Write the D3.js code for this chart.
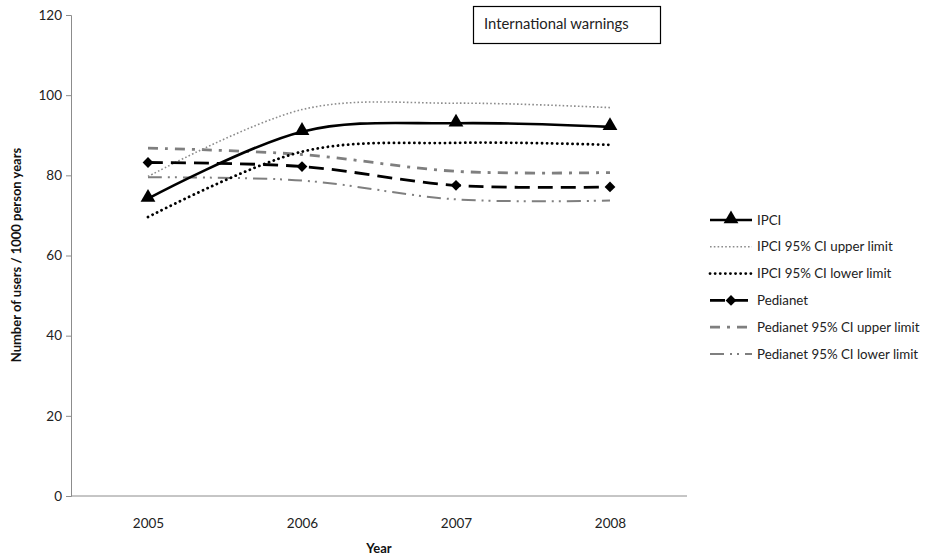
<!DOCTYPE html>
<html>
<head>
<meta charset="utf-8">
<script src="https://cdn.jsdelivr.net/npm/d3@7/dist/d3.min.js"></script>
<style>
  html, body { margin: 0; padding: 0; background: #fff; }
  svg { display: block; font-family: Lato, "Open Sans", sans-serif; }
</style>
</head>
<body>
<svg id="chart" width="927" height="559"></svg>
<script>
// Categories and series
const years = ["2005", "2006", "2007", "2008"];
const yTicks = [0, 20, 40, 60, 80, 100, 120];

const ipci        = [74.2, 90.9, 93.0, 92.1];
const ipciUpper   = [79.7, 96.4, 98.0, 96.9];
const ipciLower   = [69.6, 85.9, 88.1, 87.6];
const pedianet    = [83.2, 82.2, 77.5, 77.1];
const pedUpper    = [86.8, 85.2, 81.0, 80.7];
const pedLower    = [79.5, 78.7, 74.0, 73.7];

const seriesNames = [
  "IPCI",
  "IPCI 95% CI upper limit",
  "IPCI 95% CI lower limit",
  "Pedianet",
  "Pedianet 95% CI upper limit",
  "Pedianet 95% CI lower limit"
];

const series = [
  { name: seriesNames[0], values: ipci,      color: "#000", width: 2.6, dash: null,            cap: "butt",  marker: "triangle" },
  { name: seriesNames[1], values: ipciUpper, color: "#8c8c8c", width: 1.6, dash: "1.6,2.2",   cap: "butt",  marker: null },
  { name: seriesNames[2], values: ipciLower, color: "#000", width: 2.8, dash: "0.1,5",        cap: "round", marker: null },
  { name: seriesNames[3], values: pedianet,  color: "#000", width: 2.8, dash: "15,8",         cap: "butt",  marker: "diamond" },
  { name: seriesNames[4], values: pedUpper,  color: "#7f7f7f", width: 2.8, dash: "10,7,3,7",  cap: "butt",  marker: null },
  { name: seriesNames[5], values: pedLower,  color: "#7f7f7f", width: 2.0, dash: "14,6,2,5,2,6", cap: "butt", marker: null }
];

const svg = d3.select("#chart");

const plot = { left: 71, right: 687, top: 15, bottom: 496 };

const x = d3.scalePoint().domain(years).range([plot.left, plot.right]).padding(0.5);
const y = d3.scaleLinear().domain([0, 120]).range([plot.bottom, plot.top]);

// Y axis
const yAxis = svg.append("g")
  .attr("transform", `translate(${plot.left},0)`)
  .call(d3.axisLeft(y).tickValues(yTicks).tickSize(5).tickPadding(4));
yAxis.select(".domain").attr("stroke", "#8c8c8c");
yAxis.selectAll(".tick line").attr("stroke", "#8c8c8c");
yAxis.selectAll(".tick text").attr("font-size", 13.5).attr("fill", "#222")
  .attr("font-family", "Lato, sans-serif");

// X axis
const xAxis = svg.append("g")
  .attr("transform", `translate(0,${plot.bottom})`)
  .call(d3.axisBottom(x).tickSize(0).tickPadding(22));
xAxis.select(".domain").attr("stroke", "#8c8c8c")
  .attr("d", `M${plot.left},0H${plot.right}`);
xAxis.selectAll(".tick text").attr("font-size", 13.5).attr("fill", "#222")
  .attr("font-family", "Lato, sans-serif");

// Axis titles
svg.append("text")
  .attr("x", (plot.left + plot.right) / 2).attr("y", 553)
  .attr("text-anchor", "middle").attr("font-size", 13).attr("font-weight", "bold")
  .attr("fill", "#111").text("Year");

svg.append("text")
  .attr("transform", "translate(21,255) rotate(-90)")
  .attr("text-anchor", "middle").attr("font-size", 13).attr("font-weight", "bold")
  .attr("fill", "#111").text("Number of users / 1000 person years");

// Lines
const line = d3.line()
  .x((d, i) => x(years[i]))
  .y(d => y(d))
  .curve(d3.curveCatmullRom.alpha(0));

const triangle = d3.symbol().type(d3.symbolTriangle).size(95);
const diamond = d3.symbol().type(d3.symbolSquare).size(58);

function drawMarker(g, type, cx, cy) {
  if (type === "triangle") {
    g.append("path").attr("d", triangle()).attr("transform", `translate(${cx},${cy - 1})`)
      .attr("fill", "#000");
  } else if (type === "diamond") {
    g.append("path").attr("d", diamond()).attr("transform", `translate(${cx},${cy}) rotate(45)`)
      .attr("fill", "#000");
  }
}

const linesG = svg.append("g");
// Draw the lighter CI bands first, main series on top
const order = [4, 5, 1, 2, 3, 0];
order.forEach(k => {
  const s = series[k];
  linesG.append("path")
    .attr("d", line(s.values))
    .attr("fill", "none")
    .attr("stroke", s.color)
    .attr("stroke-width", s.width)
    .attr("stroke-linecap", s.cap)
    .attr("stroke-dasharray", s.dash);
  if (s.marker) {
    s.values.forEach((v, i) => drawMarker(linesG, s.marker, x(years[i]), y(v)));
  }
});

// Legend
const legend = svg.append("g");
series.forEach((s, i) => {
  const ly = 220 + i * 26.8;
  const g = legend.append("g");
  g.append("line")
    .attr("x1", 710).attr("x2", 752).attr("y1", ly).attr("y2", ly)
    .attr("stroke", s.color).attr("stroke-width", s.width)
    .attr("stroke-linecap", s.cap).attr("stroke-dasharray", s.dash);
  if (s.marker) drawMarker(g, s.marker, 731, ly);
  g.append("text")
    .attr("x", 757).attr("y", ly).attr("dy", "0.35em")
    .attr("font-size", 13.3).attr("fill", "#222").text(s.name);
});

// Title box
svg.append("rect")
  .attr("x", 473.5).attr("y", 6.5).attr("width", 187).attr("height", 37)
  .attr("fill", "#fff").attr("stroke", "#000").attr("stroke-width", 1.2);
svg.append("text")
  .attr("x", 484).attr("y", 24).attr("dy", "0.35em")
  .attr("font-size", 14.8).attr("fill", "#222").text("International warnings");
</script>
</body>
</html>
